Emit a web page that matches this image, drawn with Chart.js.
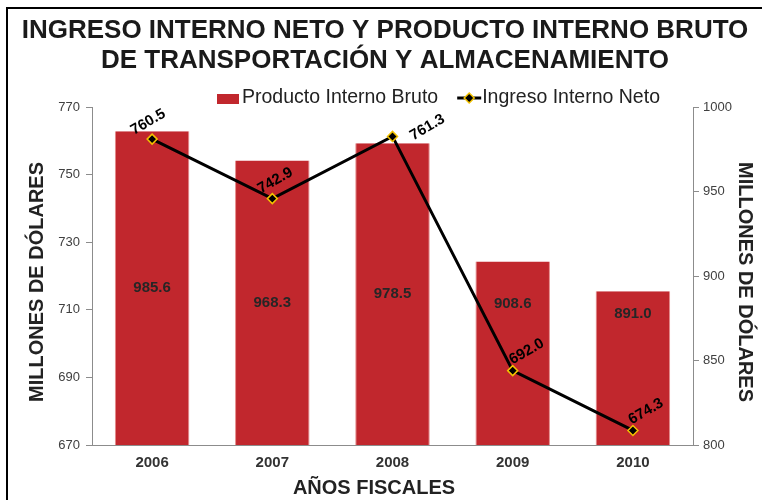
<!DOCTYPE html>
<html>
<head>
<meta charset="utf-8">
<script src="https://cdn.jsdelivr.net/npm/chart.js@4.4.1/dist/chart.umd.min.js"></script>
<style>
  html, body { margin: 0; padding: 0; background: #fff; }
  #wrap { width: 762px; height: 500px; position: relative; }
</style>
</head>
<body>
<div id="wrap"><canvas id="chart"></canvas></div>
<script>
// data
const years = ['2006', '2007', '2008', '2009', '2010'];
const pibValues = [985.6, 968.3, 978.5, 908.6, 891.0];   // Producto Interno Bruto (right axis)
const iinValues = [760.5, 742.9, 761.3, 692.0, 674.3];   // Ingreso Interno Neto (left axis)
const leftTicks = [670, 690, 710, 730, 750, 770];
const rightTicks = [800, 850, 900, 950, 1000];

const titleLines = ['INGRESO INTERNO NETO Y PRODUCTO INTERNO BRUTO', 'DE TRANSPORTACIÓN Y ALMACENAMIENTO'];
const xTitle = 'AÑOS FISCALES';
const yTitle = 'MILLONES DE DÓLARES';

// label placement (px): line labels relative to each point, bar labels relative to bar middle
const lineLabelOffsets = [[-4, -17], [3, -18], [35, -9], [14, -19], [13, -19]];
const barLabelShift = [0, 0, 0, -49, -54];

const barColor = '#C1272D';
const FONT = '"Liberation Sans", Arial, sans-serif';
Chart.defaults.font.family = FONT;

const decorations = {
    id: 'decorations',
    beforeDraw(chart) {
        const ctx = chart.ctx;
        ctx.save();
        ctx.fillStyle = '#fff';
        ctx.fillRect(0, 0, chart.width, chart.height);
        ctx.strokeStyle = '#000';
        ctx.lineWidth = 2;
        ctx.strokeRect(7, 8, chart.width + 20, chart.height + 20);
        ctx.restore();
    },
    afterDatasetsDraw(chart) {
        const ctx = chart.ctx;
        const y1 = chart.scales.y1;
        const base = y1.getPixelForValue(y1.min);
        ctx.save();
        ctx.textAlign = 'center';
        ctx.textBaseline = 'middle';

        // bar values, inside each bar
        ctx.font = 'bold 15px ' + FONT;
        ctx.fillStyle = '#262626';
        pibValues.forEach((v, i) => {
            const x = chart.scales.x.getPixelForValue(i);
            const top = y1.getPixelForValue(v);
            ctx.fillText(v.toFixed(1), x, (top + base) / 2 + barLabelShift[i]);
        });

        // line values, tilted
        ctx.fillStyle = '#000';
        chart.getDatasetMeta(1).data.forEach((pt, i) => {
            const [dx, dy] = lineLabelOffsets[i];
            ctx.save();
            ctx.translate(pt.x + dx, pt.y + dy);
            ctx.rotate(-Math.PI / 6);
            ctx.fillText(iinValues[i].toFixed(1), 0, 0);
            ctx.restore();
        });
        ctx.restore();
    },
    afterDraw(chart) {
        const ctx = chart.ctx;
        const ds = chart.data.datasets;
        const area = chart.chartArea;
        ctx.save();

        // axis titles
        ctx.font = 'bold 20px ' + FONT;
        ctx.fillStyle = '#222';
        ctx.textAlign = 'center';
        ctx.textBaseline = 'middle';
        ctx.fillText(xTitle, 374, 488);
        const midY = (area.top + area.bottom) / 2 + 6;
        ctx.save();
        ctx.translate(37, midY);
        ctx.rotate(-Math.PI / 2);
        ctx.fillText(yTitle, 0, 0);
        ctx.restore();
        ctx.save();
        ctx.translate(745, midY);
        ctx.rotate(Math.PI / 2);
        ctx.fillText(yTitle, 0, 0);
        ctx.restore();

        // legend: red box + line with diamond marker
        const y = 98;
        let x = 217;
        ctx.font = '19.5px ' + FONT;
        ctx.textAlign = 'left';

        ctx.fillStyle = barColor;
        ctx.fillRect(x, y - 4, 22, 10);
        x += 25;
        ctx.fillStyle = '#222';
        ctx.fillText(ds[0].label, x, y);
        x += ctx.measureText(ds[0].label).width + 19;

        ctx.strokeStyle = '#000';
        ctx.lineWidth = 3;
        ctx.beginPath();
        ctx.moveTo(x, y);
        ctx.lineTo(x + 24, y);
        ctx.stroke();
        ctx.beginPath();
        ctx.moveTo(x + 12, y - 5);
        ctx.lineTo(x + 17, y);
        ctx.lineTo(x + 12, y + 5);
        ctx.lineTo(x + 7, y);
        ctx.closePath();
        ctx.fillStyle = '#000';
        ctx.fill();
        ctx.lineWidth = 1.5;
        ctx.strokeStyle = '#F2C200';
        ctx.stroke();
        x += 25;
        ctx.fillStyle = '#222';
        ctx.fillText(ds[1].label, x, y);
        ctx.restore();
    }
};

new Chart(document.getElementById('chart'), {
    data: {
        labels: years,
        datasets: [
            {
                type: 'bar',
                label: 'Producto Interno Bruto',
                data: pibValues,
                yAxisID: 'y1',
                backgroundColor: barColor,
                borderColor: '#E58A8A',
                borderWidth: { left: 1, right: 1, top: 0, bottom: 0 },
                barPercentage: 0.62,
                categoryPercentage: 1,
                order: 2
            },
            {
                type: 'line',
                label: 'Ingreso Interno Neto',
                data: iinValues,
                yAxisID: 'y',
                borderColor: '#000',
                borderWidth: 3,
                tension: 0,
                pointStyle: 'rectRot',
                pointRadius: 5,
                pointBackgroundColor: '#000',
                pointBorderColor: '#F2C200',
                pointBorderWidth: 1.5,
                order: 1
            }
        ]
    },
    options: {
        responsive: true,
        maintainAspectRatio: false,
        animation: false,
        layout: { padding: { left: 8, right: 0, top: 0, bottom: 0 } },
        plugins: {
            legend: { display: false },
            tooltip: { enabled: false },
            title: {
                display: true,
                text: titleLines,
                color: '#1a1a1a',
                font: { size: 26, weight: 'bold', lineHeight: 1.15 },
                padding: { top: 16, bottom: 31.2 }
            }
        },
        scales: {
            x: {
                grid: { display: false, drawTicks: false },
                border: { display: true, color: '#8c8c8c' },
                ticks: { color: '#333', font: { size: 15, weight: 'bold' }, padding: 8.5 },
                afterFit(s) { s.height = 55; }
            },
            y: {
                position: 'left',
                min: 670,
                max: 770,
                afterBuildTicks(s) { s.ticks = leftTicks.map(v => ({ value: v })); },
                grid: { drawOnChartArea: false, tickLength: 6, color: '#8c8c8c' },
                border: { color: '#8c8c8c' },
                ticks: { color: '#404040', font: { size: 13 }, padding: 6 },
                afterFit(s) { s.width = 84; }
            },
            y1: {
                position: 'right',
                min: 800,
                max: 1000,
                afterBuildTicks(s) { s.ticks = rightTicks.map(v => ({ value: v })); },
                grid: { drawOnChartArea: false, tickLength: 6, color: '#8c8c8c' },
                border: { color: '#8c8c8c' },
                ticks: { color: '#404040', font: { size: 13 }, padding: 4, callback: v => String(v) },
                afterFit(s) { s.width = 69; }
            }
        }
    },
    plugins: [decorations]
});
</script>
</body>
</html>
